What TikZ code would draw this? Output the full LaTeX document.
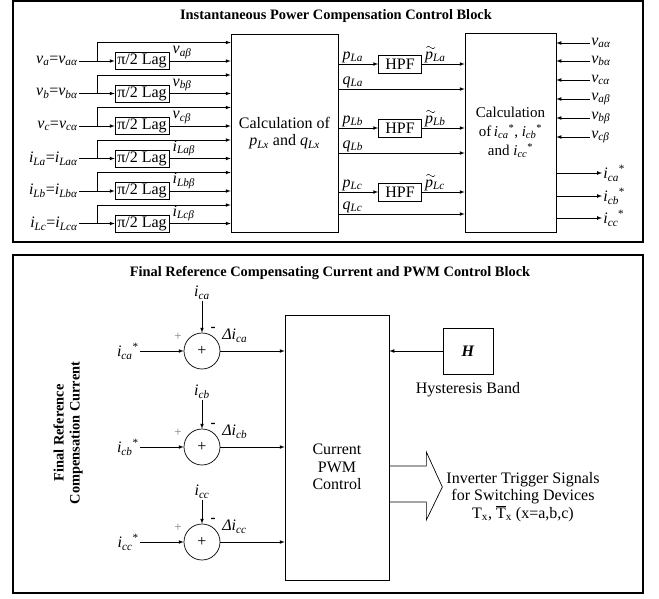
\documentclass[tikz,border=0pt]{standalone}
\usepackage{fontspec}
\setmainfont{Liberation Serif}
\usepackage{tikz}

\newcommand{\sv}[2]{\textit{#1}\textsubscript{\textit{#2}}}
\newcommand{\ssv}[2]{\textit{#1}\textsubscript{\textit{#2}}\textsuperscript{*}}

\begin{document}
\begin{tikzpicture}[x=1pt,y=-1pt,>=latex,line width=0.7pt,
  every node/.style={font=\fontsize{16}{17.5}\selectfont},
  ttl/.style={font=\fontsize{14.4}{16}\selectfont\bfseries},
  lagbox/.style={draw,minimum width=54pt,minimum height=17pt,inner sep=0pt},
  hpfbox/.style={draw,minimum width=43pt,minimum height=18pt,inner sep=0pt},
  sumnode/.style={draw,circle,minimum size=36pt,inner sep=0pt},
  lbl/.style={inner sep=1pt}]
\useasboundingbox (0,0) rectangle (659,598);

% upper block
\draw[line width=1.2pt] (13,1) rectangle (643,242);
\node[ttl] (ttlA) at (336,16) {Instantaneous Power Compensation Control Block};
\node[draw,minimum width=107pt,minimum height=198pt,align=center] (calcA) at (284.5,133)
  {Calculation of\\ \sv{p}{Lx} and \sv{q}{Lx}};
\node[draw,minimum width=91pt,minimum height=199pt,align=center,inner sep=1pt,
  font=\fontsize{15}{19}\selectfont] (calcB) at (510.5,132.5)
  {Calculation\\ of\,\ssv{i}{ca}, \ssv{i}{cb}\\ and \ssv{i}{cc}};

\foreach \yy/\lin/\lout [count=\k] in {
   61/{\sv{v}{a}=\sv{v}{aα}}/{\sv{v}{aβ}},
   93.5/{\sv{v}{b}=\sv{v}{bα}}/{\sv{v}{bβ}},
   126/{\sv{v}{c}=\sv{v}{cα}}/{\sv{v}{cβ}},
   158.5/{\sv{i}{La}=\sv{i}{Laα}}/{\sv{i}{Laβ}},
   191/{\sv{i}{Lb}=\sv{i}{Lbα}}/{\sv{i}{Lbβ}},
   223.5/{\sv{i}{Lc}=\sv{i}{Lcα}}/{\sv{i}{Lcβ}}}{
  \node[lbl,anchor=east] (in\k) at (79,\yy) {\lin};
  \node[lagbox] (lag\k) at (142,\yy) {π/2 Lag};
  \coordinate (br\k) at (97,\yy);
  \path (br\k) ++(0,-18.5) coordinate (tp\k);
  \draw (in\k.east) -- (br\k);
  \draw[->] (br\k) -- (lag\k.west);
  \draw[->] (br\k) |- (tp\k -| calcA.west);
  \draw[->] (lag\k.east) -- (lag\k -| calcA.west);
  \node[lbl,anchor=south west] (lb\k) at ([xshift=2pt,yshift=1pt]lag\k.east) {\lout};
}

% HPF rows
\foreach \ph/\py/\qy in {a/64/89, b/128/153, c/192/214}{
  \node[hpfbox] (hpf\ph) at (400,\py) {HPF};
  \coordinate (q\ph) at (calcA.east |- 0,\qy);
  \draw[->] (hpf\ph -| calcA.east) -- (hpf\ph.west);
  \draw[->] (hpf\ph.east) -- (hpf\ph -| calcB.west);
  \draw[->] (q\ph) -- (q\ph -| calcB.west);
  \node[lbl,anchor=south west] (pl\ph) at ([xshift=3pt]hpf\ph -| calcA.east) {\sv{p}{L\ph}};
  \node[lbl,anchor=base west] (pt\ph) at ([xshift=2pt,yshift=5pt]hpf\ph.east) {\sv{p}{L\ph}};
  \draw[line width=0.5pt] ([xshift=2.5pt,yshift=11.5pt]pt\ph.base west) sin ++(2.2,-1.3)
    cos ++(2.2,1.3) sin ++(2.2,1.3) cos ++(2.2,-1.3);
  \node[lbl,anchor=south west] (ql\ph) at ([xshift=3pt]q\ph) {\sv{q}{L\ph}};
}

% right inputs
\foreach \yy/\lab [count=\k] in {43/{\sv{v}{aα}}, 61/{\sv{v}{bα}}, 80/{\sv{v}{cα}},
   99/{\sv{v}{aβ}}, 118/{\sv{v}{bβ}}, 137/{\sv{v}{cβ}}}{
  \coordinate (vr\k) at (590,\yy);
  \draw[->] (vr\k) -- (vr\k -| calcB.east);
  \node[lbl,anchor=west] (vl\k) at (vr\k) {\lab};
}

% outputs
\foreach \yy/\lab [count=\k] in {173/{\ssv{i}{ca}}, 196/{\ssv{i}{cb}}, 218/{\ssv{i}{cc}}}{
  \coordinate (out\k) at (602,\yy);
  \draw[->] (calcB.east |- out\k) -- (out\k);
  \node[lbl,anchor=west] (ol\k) at (out\k) {\lab};
}

% lower block
\draw[line width=1.2pt] (13,255) rectangle (643,593);
\node[ttl] (ttlB) at (330,273) {Final Reference Compensating Current and PWM Control Block};
\node[ttl,rotate=90,align=center] (side) at (68,433) {Final Reference\\Compensation Current};

\node[draw,minimum width=104pt,minimum height=265pt] (pwm) at (337,447.5) {};
\node[align=center] (pwmtxt) at (337,467) {Current\\PWM\\Control};

\foreach \ph/\yy/\my in {a/351/293, b/447/392, c/542/492}{
  \node[sumnode] (s\ph) at (202,\yy) {+};
  \node[lbl] (m\ph) at (202,\my) {\sv{i}{c\ph}};
  \node[lbl,anchor=east] (r\ph) at (140,\yy) {\ssv{i}{c\ph}};
  \draw[->] (m\ph.south) -- (s\ph.north);
  \draw[->] (r\ph.east) -- (s\ph.west);
  \draw[->] (s\ph.east) -- (s\ph -| pwm.west);
  \node[lbl,gray,font=\fontsize{13}{13}\selectfont] (pp\ph) at ([xshift=-24pt,yshift=14pt]s\ph) {+};
  \node[lbl,font=\fontsize{15}{15}\selectfont\bfseries] (mm\ph) at ([xshift=11pt,yshift=22pt]s\ph) {-};
  \node[lbl,anchor=west] (d\ph) at ([xshift=19pt,yshift=15pt]s\ph) {\textit{Δ}\sv{i}{c\ph}};
}

\node[draw,minimum width=50pt,minimum height=46pt] (hb) at (468,351) {\textbf{\textit{H}}};
\node (hyst) at (468,390) {Hysteresis Band};
\draw[->] (hb.west) -- (hb.west -| pwm.east);

\draw (pwm.east |- 0,466) -- ++(37,0) -- ++(0,-14) -- ++(16,35) -- ++(-16,33)
  -- ++(0,-18) -- (pwm.east |- 0,502);
\node[align=center] (trig) at (523,497) {Inverter Trigger Signals\\for Switching Devices\\
  T\textsubscript{x}, $\overline{\hbox{T}}$\textsubscript{x} (x=a,b,c)};
\end{tikzpicture}
\end{document}
